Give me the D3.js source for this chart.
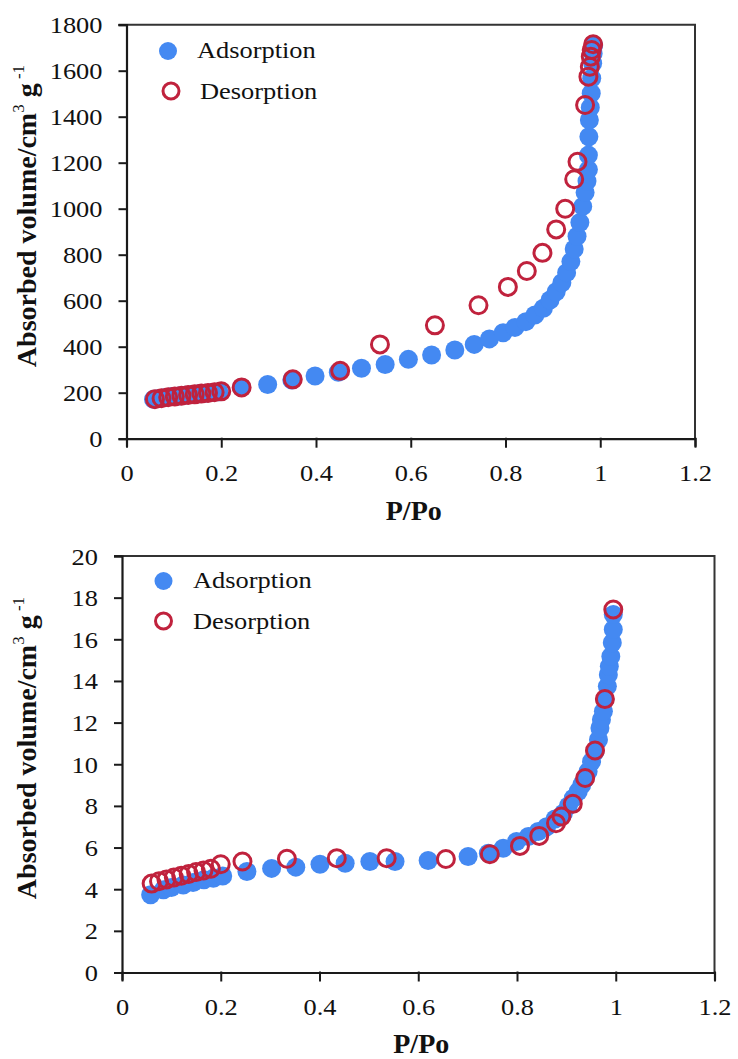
<!DOCTYPE html>
<html>
<head>
<meta charset="utf-8">
<script src="https://cdn.jsdelivr.net/npm/d3@7"></script>
<style>
  html, body { margin: 0; padding: 0; background: #fff; }
  svg { display: block; }
  text { font-family: "Liberation Serif", "Times New Roman", serif; fill: #111; }
</style>
</head>
<body>
<svg id="chart" width="738" height="1059"></svg>
<script>
// N2 isotherm, sample 1 (cm3/g)
const adsTopX = [0.057,0.068,0.082,0.096,0.110,0.124,0.138,0.152,0.166,0.180,0.195,0.243,0.298,0.349,0.398,0.447,0.496,0.546,0.595,0.644,0.693,0.734,0.766,0.795,0.820,0.843,0.862,0.880,0.894,0.907,0.919,0.929,0.938,0.945,0.951,0.957,0.963,0.968,0.972,0.975,0.975,0.976,0.977,0.979,0.981,0.982,0.984,0.985,0.986];
const adsTopY = [171,175,179,183,186,189,192,195,198,201,204,223,236,255,273,289,306,323,345,364,386,410,434,461,484,509,538,567,603,639,678,722,770,825,880,940,1010,1070,1120,1170,1233,1313,1386,1440,1502,1567,1632,1675,1710];
const desTopX = [0.060,0.074,0.088,0.102,0.116,0.130,0.144,0.158,0.172,0.186,0.200,0.243,0.351,0.451,0.535,0.651,0.743,0.805,0.845,0.878,0.907,0.926,0.945,0.952,0.968,0.975,0.978,0.980,0.982,0.985];
const desTopY = [172,176,180,184,187,190,193,196,199,202,206,223,258,295,410,493,580,660,729,808,910,1000,1128,1204,1451,1574,1617,1661,1690,1715];

// N2 isotherm, sample 2 (cm3/g)
const adsBotX = [0.058,0.084,0.100,0.124,0.144,0.166,0.185,0.204,0.253,0.303,0.352,0.401,0.452,0.502,0.553,0.620,0.701,0.742,0.772,0.799,0.823,0.843,0.860,0.877,0.894,0.904,0.914,0.924,0.931,0.938,0.944,0.951,0.958,0.965,0.968,0.971,0.975,0.978,0.983,0.985,0.987,0.990,0.993,0.995,0.995];
const adsBotY = [3.73,3.97,4.08,4.20,4.32,4.45,4.53,4.63,4.85,5.00,5.06,5.20,5.25,5.33,5.33,5.38,5.57,5.73,5.97,6.29,6.53,6.77,7.00,7.37,7.65,8.00,8.37,8.69,9.00,9.30,9.65,10.13,10.60,11.18,11.74,12.14,12.54,13.10,13.74,14.30,14.70,15.18,15.83,16.47,17.19];
const desBotX = [0.060,0.075,0.090,0.105,0.120,0.135,0.150,0.165,0.180,0.200,0.244,0.334,0.435,0.536,0.656,0.745,0.806,0.845,0.879,0.890,0.913,0.938,0.958,0.978,0.995];
const desBotY = [4.27,4.38,4.47,4.56,4.65,4.73,4.82,4.90,4.98,5.20,5.33,5.46,5.49,5.49,5.45,5.68,6.08,6.56,7.17,7.49,8.10,9.34,10.66,13.13,17.43];

const xTicks = [0, 0.2, 0.4, 0.6, 0.8, 1, 1.2];
const yTicksTop = [0,200,400,600,800,1000,1200,1400,1600,1800];
const yTicksBot = [0,2,4,6,8,10,12,14,16,18,20];
const seriesNames = ["Adsorption", "Desorption"];

const BLUE = "#4489f2";
const RED = "#c0223d";
const AXIS = "#1a1a1a";
const WIDE = 1.1;   // slightly widened Times-style lettering

const svg = d3.select("#chart");

// places a label whose glyphs are widened horizontally
function wideText(sel, x, y, str, size, anchor) {
  return sel.append("text")
    .attr("transform", `translate(${x},${y}) scale(${WIDE},1)`)
    .attr("text-anchor", anchor || "start")
    .attr("font-size", size)
    .text(str);
}

function panel(cfg) {
  const g = svg.append("g");
  const x = d3.scaleLinear().domain([0, 1.2]).range([cfg.left, cfg.right]);
  const y = d3.scaleLinear().domain([0, cfg.yMax]).range([cfg.bottom, cfg.top]);

  // frame: top and right edges
  g.append("path")
    .attr("d", `M${cfg.left - 8},${cfg.top}H${cfg.right}V${cfg.bottom}`)
    .attr("fill", "none").attr("stroke", "#333").attr("stroke-width", 2);

  const xAxis = g.append("g")
    .attr("transform", `translate(0,${cfg.bottom})`)
    .call(d3.axisBottom(x).tickValues(xTicks).tickFormat(d3.format("")).tickSize(8));
  const yAxis = g.append("g")
    .attr("transform", `translate(${cfg.left},0)`)
    .call(d3.axisLeft(y).tickValues(cfg.yTicks).tickFormat(d3.format("")).tickSize(8));

  [xAxis, yAxis].forEach(a => {
    a.select(".domain").attr("stroke", AXIS).attr("stroke-width", 2.2);
    a.selectAll(".tick line").attr("stroke", AXIS).attr("stroke-width", 2);
    a.selectAll(".tick text")
      .attr("font-family", null)
      .attr("font-size", 24).attr("fill", "#111");
  });
  xAxis.selectAll(".tick line").attr("y1", -1).attr("y2", 9);
  xAxis.selectAll(".tick text")
    .attr("x", 0).attr("y", 0).attr("dy", null)
    .attr("transform", `translate(0,42) scale(${WIDE},1)`);
  yAxis.selectAll(".tick text")
    .attr("x", 0).attr("dy", null)
    .attr("transform", `translate(-24,8) scale(${WIDE},1)`);

  // markers
  const ads = cfg.adsX.map((v, i) => [v, cfg.adsY[i]]);
  const des = cfg.desX.map((v, i) => [v, cfg.desY[i]]);
  g.append("g").selectAll("circle").data(ads).join("circle")
    .attr("cx", d => x(d[0])).attr("cy", d => y(d[1])).attr("r", 9.5)
    .attr("fill", BLUE);
  g.append("g").selectAll("circle").data(des).join("circle")
    .attr("cx", d => x(d[0])).attr("cy", d => y(d[1])).attr("r", 8.5)
    .attr("fill", "none").attr("stroke", RED).attr("stroke-width", 3);

  // legend
  const lg = g.append("g");
  lg.append("circle").attr("cx", cfg.leg[0]).attr("cy", cfg.leg[1]).attr("r", 9).attr("fill", BLUE);
  lg.append("circle").attr("cx", cfg.leg[0] + cfg.legDx).attr("cy", cfg.leg[1] + cfg.legGap).attr("r", 8)
    .attr("fill", "none").attr("stroke", RED).attr("stroke-width", 3);
  wideText(lg, cfg.leg[2], cfg.leg[1] + 7, seriesNames[0], 24);
  wideText(lg, cfg.leg[2] + cfg.legDx, cfg.leg[1] + cfg.legGap + 8, seriesNames[1], 24);

  // axis titles
  g.append("text")
    .attr("x", (cfg.left + cfg.right) / 2 + 3).attr("y", cfg.xTitleY)
    .attr("text-anchor", "middle").attr("font-weight", "bold").attr("font-size", 28)
    .text("P/Po");

  const yt = g.append("text")
    .attr("transform", `translate(${cfg.yTitleX},${cfg.yTitleY}) rotate(-90)`)
    .attr("text-anchor", "middle").attr("font-weight", "bold").attr("font-size", 28);
  yt.append("tspan").text("Absorbed volume/cm");
  yt.append("tspan").attr("font-size", 17).attr("font-weight", "normal").attr("dy", -12).text("3");
  yt.append("tspan").attr("dy", 12).text(" g");
  yt.append("tspan").attr("font-size", 17).attr("font-weight", "normal").attr("dy", -12).text(" -1");
}

panel({
  left: 126.5, right: 695, top: 24.7, bottom: 438.7, yMax: 1800, yTicks: yTicksTop,
  adsX: adsTopX, adsY: adsTopY, desX: desTopX, desY: desTopY,
  leg: [168, 51, 197], legDx: 3, legGap: 40,
  xTitleY: 520, yTitleX: 36, yTitleY: 216
});

panel({
  left: 122, right: 714.5, top: 556, bottom: 972.5, yMax: 20, yTicks: yTicksBot,
  adsX: adsBotX, adsY: adsBotY, desX: desBotX, desY: desBotY,
  leg: [163.5, 581, 193], legDx: 0, legGap: 40,
  xTitleY: 1053, yTitleX: 36, yTitleY: 748
});
</script>
</body>
</html>
